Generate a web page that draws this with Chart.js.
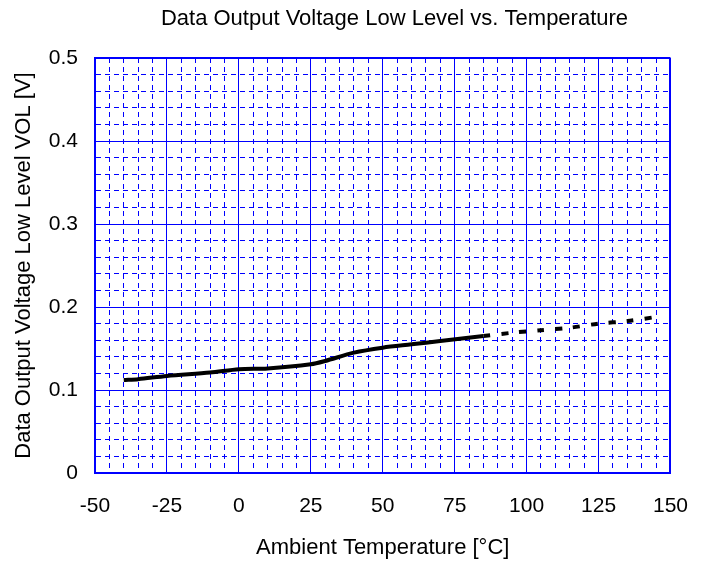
<!DOCTYPE html>
<html>
<head>
<meta charset="utf-8">
<title>Data Output Voltage Low Level vs. Temperature</title>
<script src="https://cdn.jsdelivr.net/npm/chart.js@4.4.1/dist/chart.umd.min.js"></script>
<style>
  html, body { margin: 0; padding: 0; background: #fff; }
  canvas { display: block; }
</style>
</head>
<body>
<canvas id="chart" width="709" height="568"></canvas>
<script>
// measured part of the curve (solid), -40 .. 85 degC
const tempMeasured = [-40, -35, -25, -10, 0, 10, 25, 30, 40, 50, 60, 70, 85];
const volMeasured = [0.112, 0.113, 0.117, 0.121, 0.125, 0.126, 0.131, 0.135, 0.145, 0.151, 0.155, 0.159, 0.165];

// extended part (dashed), 85 .. 145 degC
const tempExtended = [85, 95, 105, 115, 125, 135, 145];
const volExtended = [0.165, 0.169, 0.172, 0.175, 0.180, 0.183, 0.188];

// labelled ticks
const xTickLabels = ['-50', '-25', '0', '25', '50', '75', '100', '125', '150'];
const yTickLabels = ['0', '0.1', '0.2', '0.3', '0.4', '0.5'];

const BLUE = '#0000ff';
const MINOR_DASH = [5, 4];

const toPoints = (xs, ys) => xs.map((x, i) => ({ x: x, y: ys[i] }));

// x grid: major every 25, minor every 5
const xMajor = (v) => v % 25 === 0;
// y grid: major every 0.1, minor every 0.02
const yMajor = (v) => Math.round(v * 100) % 10 === 0;

// the title sits a bit right of the plot centre in the original
const titleShift = {
  id: 'titleShift',
  afterLayout(chart) {
    const t = chart.titleBlock;
    if (t) {
      t.left = 116;
      t.right = 673;
    }
  }
};

Chart.defaults.font.family = '"Liberation Sans", Arial, sans-serif';
Chart.defaults.color = '#000';

new Chart(document.getElementById('chart'), {
  type: 'line',
  data: {
    datasets: [
      {
        data: toPoints(tempMeasured, volMeasured),
        borderColor: '#000',
        borderWidth: 4,
        pointRadius: 0,
        tension: 0.3,
        fill: false
      },
      {
        data: toPoints(tempExtended, volExtended),
        borderColor: '#000',
        borderWidth: 4,
        borderDash: [7, 11],
        pointRadius: 0,
        tension: 0.3,
        fill: false
      }
    ]
  },
  options: {
    responsive: false,
    animation: false,
    devicePixelRatio: 1,
    layout: { padding: { left: 0, right: 36, top: 0, bottom: 0 } },
    plugins: {
      legend: { display: false },
      tooltip: { enabled: false },
      title: {
        display: true,
        text: 'Data Output Voltage Low Level vs. Temperature',
        font: { size: 22, weight: 'normal' },
        color: '#000',
        padding: { top: 6, bottom: 25.6 }
      }
    },
    scales: {
      x: {
        type: 'linear',
        min: -50,
        max: 150,
        ticks: {
          stepSize: 5,
          autoSkip: false,
          maxRotation: 0,
          padding: 21,
          font: { size: 21 },
          color: '#000',
          callback: (v) => xMajor(v) ? xTickLabels[(v + 50) / 25] : ''
        },
        grid: {
          color: BLUE,
          drawTicks: false,
          lineWidth: (ctx) => {
            if (!ctx.tick) return 1;
            const v = ctx.tick.value;
            return (v === -50 || v === 150) ? 2 : 1;
          }
        },
        border: {
          display: true,
          color: BLUE,
          width: 2,
          dash: (ctx) => (ctx.tick && !xMajor(ctx.tick.value)) ? MINOR_DASH : []
        },
        title: {
          display: true,
          text: 'Ambient Temperature [°C]',
          font: { size: 22 },
          color: '#000',
          padding: { top: 0, bottom: 7 }
        },
        afterFit: (scale) => { scale.height = 95; }
      },
      y: {
        type: 'linear',
        min: 0,
        max: 0.5,
        ticks: {
          stepSize: 0.02,
          autoSkip: false,
          padding: 17,
          font: { size: 21 },
          color: '#000',
          callback: (v) => yMajor(v) ? yTickLabels[Math.round(v * 10)] : ''
        },
        grid: {
          color: BLUE,
          drawTicks: false,
          lineWidth: (ctx) => {
            if (!ctx.tick) return 1;
            const k = Math.round(ctx.tick.value * 100);
            return (k === 0 || k === 50) ? 2 : 1;
          }
        },
        border: {
          display: true,
          color: BLUE,
          width: 2,
          dash: (ctx) => (ctx.tick && !yMajor(ctx.tick.value)) ? MINOR_DASH : []
        },
        title: {
          display: true,
          text: 'Data Output Voltage Low Level VOL [V]',
          font: { size: 22 },
          color: '#000',
          padding: { top: 11, bottom: 0 }
        },
        afterFit: (scale) => { scale.width = 95; }
      }
    }
  },
  plugins: [titleShift]
});
</script>
</body>
</html>
